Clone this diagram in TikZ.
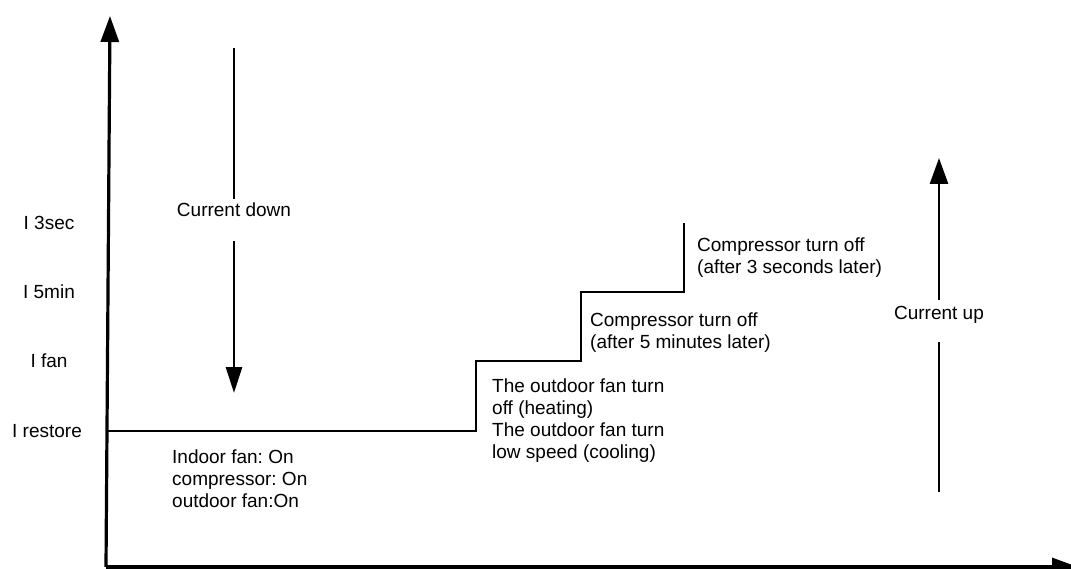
\documentclass[tikz,border=0pt]{standalone}
\usepackage{fontspec}
\setmainfont{Liberation Sans}
\usetikzlibrary{arrows.meta}
\frenchspacing
\tikzset{
  axis/.style={line width=3.2pt, -{Triangle[length=26pt,width=18pt]}},
  stair/.style={line width=2.8pt},
  trend/.style={line width=2.8pt},
  lbl/.style={inner sep=0pt, font=\fontsize{19}{21.8}\selectfont},
  note/.style={lbl, align=left, anchor=north west},
}
\begin{document}
\begin{tikzpicture}[x=1pt,y=-1pt]
  \useasboundingbox (0,0) rectangle (1071,569);
  \def\Ya{223} % I 3sec
  \def\Yb{292} % I 5min
  \def\Yc{361} % I fan
  \def\Yd{431} % I restore

  % axes
  \coordinate (O) at (106,567);
  \coordinate (ytop) at (110,16);
  \coordinate (xend) at (1078,567);
  \draw[axis] (O) -- (ytop);
  \draw[axis] (O) -- (xend);

  % current levels
  \node[lbl] (i3s) at (49,\Ya) {I 3sec};
  \node[lbl] (i5m) at (49,\Yb) {I 5min};
  \node[lbl] (ifan) at (49,\Yc) {I fan};
  \node[lbl] (ires) at (47,\Yd) {I restore};

  % staircase
  \coordinate (s0) at (107,\Yd);
  \draw[stair] (s0) -| (476,\Yc) -| (581,\Yb) -| (684,\Ya);

  % current down
  \node[lbl] (down) at (234,210) {Current down};
  \coordinate (dtop) at (234,48);
  \coordinate (dtip) at (234,393);
  \draw[trend] (dtop) -- ([yshift=4pt]down.north);
  \draw[trend, -{Triangle[length=26pt,width=16pt]}] ([yshift=-24pt]down.south) -- (dtip);

  % current up
  \node[lbl] (up) at (939,315) {Current up};
  \coordinate (ubot) at (939,492);
  \coordinate (utip) at (939,158);
  \draw[trend] (ubot) -- ([yshift=-18pt]up.south);
  \draw[trend, -{Triangle[length=26pt,width=18pt]}] ([yshift=6pt]up.north) -- (utip);

  % states
  \node[note] (run) at (172,450) {Indoor fan: On\\compressor: On\\outdoor fan:On};
  \node[note] (fanoff) at (492,379) {The outdoor fan turn\\off (heating)\\The outdoor fan turn\\low speed (cooling)};
  \node[note] (off5m) at (590,313) {Compressor turn off\\(after 5 minutes later)};
  \node[note] (off3s) at (697,238) {Compressor turn off\\(after 3 seconds later)};
\end{tikzpicture}
\end{document}
